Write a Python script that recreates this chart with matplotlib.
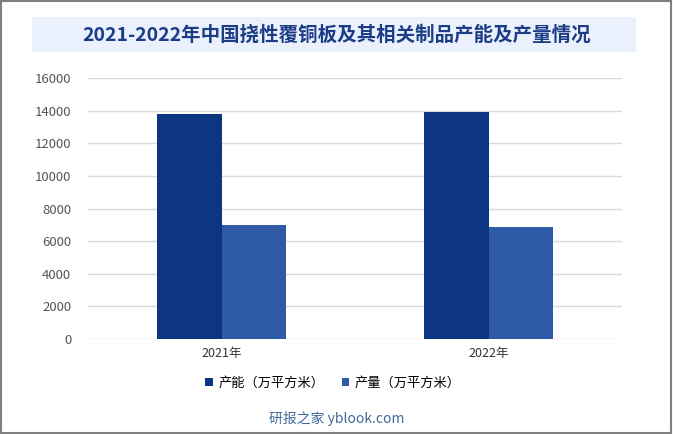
import matplotlib.pyplot as plt
from matplotlib.patches import Rectangle
import numpy as np

plt.rcParams['font.family'] = ['Noto Sans CJK SC', 'DejaVu Sans']

years = ['2021年', '2022年']
capacity = [13800, 13920]
output = [7000, 6870]
series_names = ['产能（万平方米）', '产量（万平方米）']
colors = ['#0D3682', '#2E5AA6']

fig = plt.figure(figsize=(6.73, 4.34), dpi=100)
fig.patch.set_facecolor('white')

# outer frame
fig.patches.append(Rectangle((0.0015, 0.002), 0.996, 0.996, transform=fig.transFigure,
                             fill=False, edgecolor='#7F7F7F', linewidth=1.5))
# title band
fig.patches.append(Rectangle((32 / 673, 1 - 52 / 434), 604 / 673, 35 / 434,
                             transform=fig.transFigure, facecolor='#EAF1FC', edgecolor='none'))
fig.text(0.5, 1 - 35 / 434, '2021-2022年中国挠性覆铜板及其相关制品产能及产量情况',
         ha='center', va='center', fontsize=14, color='#1C3C86', fontweight='bold')

ax = fig.add_axes([88 / 673, 1 - 339 / 434, 534 / 673, 261 / 434])
x = np.arange(len(years))
w = 0.24
ax.bar(x - w / 2, capacity, w, color=colors[0], label=series_names[0], zorder=3)
ax.bar(x + w / 2, output, w, color=colors[1], label=series_names[1], zorder=3)

ax.set_xlim(-0.5, 1.5)
ax.set_ylim(0, 16000)
ax.set_yticks(range(0, 16001, 2000))
ax.set_xticks(x)
ax.set_xticklabels(years, fontsize=9, color='#333333')
ax.tick_params(axis='y', labelsize=9.5, colors='#555555', length=0, pad=12)
ax.tick_params(axis='x', length=0, pad=6)
ax.grid(axis='y', color='#D9D9D9', linewidth=1, zorder=0)
for s in ax.spines.values():
    s.set_visible(False)

ax.legend(loc='center', bbox_to_anchor=((333 - 88) / 534, (339 - 383) / 261), ncol=2, frameon=False,
          fontsize=9.5, handlelength=0.6, handleheight=0.6, handletextpad=0.4, columnspacing=1.3)

fig.text(0.5, 1 - 418 / 434, '研报之家 yblook.com', ha='center', va='center',
         fontsize=10, color='#44689A')

fig.savefig('out.png', dpi=100)
